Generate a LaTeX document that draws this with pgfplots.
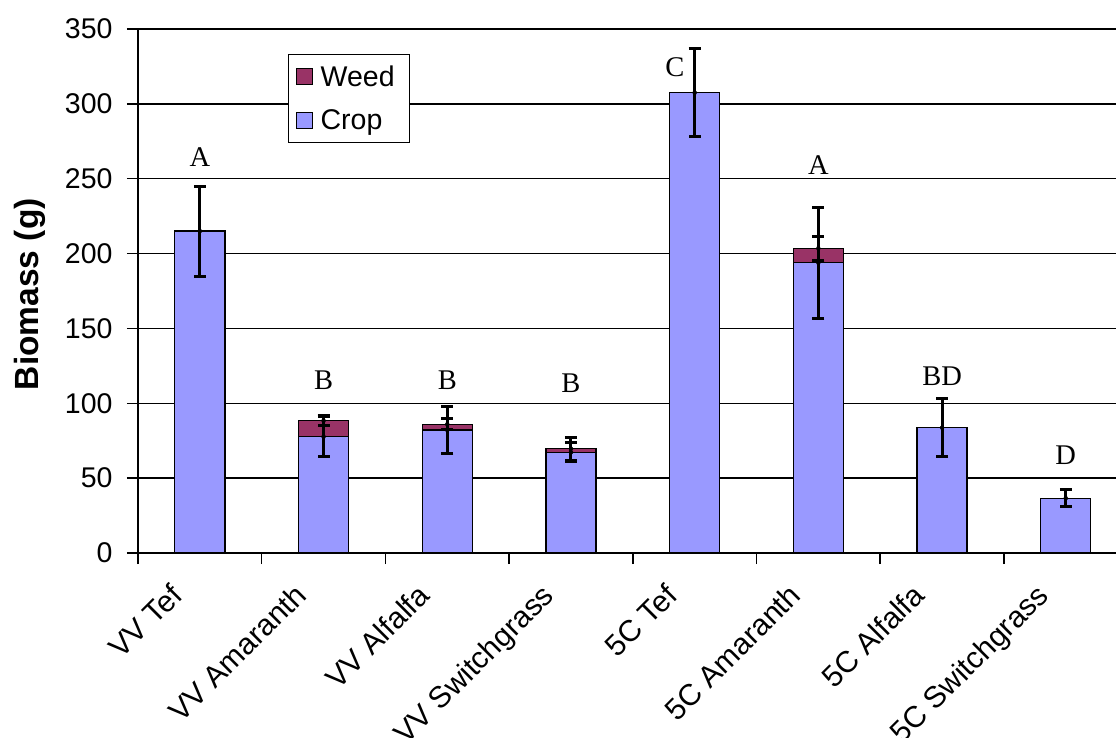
\documentclass[border=0pt]{standalone}
\usepackage{fontspec}
\setmainfont{Liberation Sans}
\newfontfamily\seriffont{Liberation Serif}
\usepackage{pgfplots}
\pgfplotsset{compat=1.18}
\definecolor{crop}{RGB}{153,153,255}
\definecolor{weed}{RGB}{153,51,102}
\begin{document}
\begin{tikzpicture}
\begin{axis}[
  at={(0bp,0bp)}, anchor=south west,
  scale only axis, width=978bp, height=524bp,
  xmin=-0.5, xmax=7.406, ymin=0, ymax=350,
  axis x line*=bottom, axis y line*=left,
  x axis line style={-, line width=1.5bp},
  y axis line style={-, line width=1.5bp},
  /pgf/number format/assume math mode=true,
  tick label style={font=\fontsize{28.5bp}{32bp}\selectfont},
  ytick={0,50,...,300},
  extra y ticks={350},
  extra y tick style={grid style={gray!60, line width=0.8bp}},
  ymajorgrids,
  major y grid style={black, line width=1.3bp},
  tick align=outside,
  major tick length=11bp,
  minor tick length=11bp,
  y tick style={black, line width=1.5bp},
  xtick={0,...,7},
  xticklabels={VV Tef, VV Amaranth, VV Alfalfa, VV Switchgrass, 5C Tef, 5C Amaranth, 5C Alfalfa, 5C Switchgrass},
  major x tick style={draw=none},
  minor xtick={-0.5,0.5,...,6.5},
  minor x tick style={black, line width=1.5bp},
  xticklabel style={font=\fontsize{30bp}{34bp}\selectfont, text height=0.75em, text depth=0.22em,
     xshift=-21bp, yshift=-25bp, rotate=45, anchor=north east, inner sep=2bp},
  yticklabel style={anchor=east, xshift=-11bp},
  every axis y label/.style={at={(axis description cs:-0.1104,0.494)}, rotate=90, anchor=center,
     font=\bfseries\fontsize{33.5bp}{36bp}\selectfont},
  ylabel={Biomass (g)},
  legend style={at={(rel axis cs:0.1534,0.952)}, anchor=north west, draw=black, line width=1.3bp,
     fill=white, font=\fontsize{28.5bp}{32bp}\selectfont, row sep=18bp, inner xsep=7bp, inner ysep=9bp,
     nodes={inner xsep=8bp},
     legend cell align=left},
  legend image code/.code={\draw[#1, line width=1bp] (0bp,-8bp) rectangle (16bp,8bp);},
]
% total (crop + weed), drawn first
\addplot[ybar, bar width=50bp, bar shift=0pt, fill=weed, draw=black, line width=1.3bp]
  coordinates {(0,215) (1,88.4) (2,86) (3,69.7) (4,307.5) (5,203.5) (6,83.7) (7,36.6)};
\addlegendentry{Weed}
% crop
\addplot[ybar, bar width=50bp, bar shift=0pt, fill=crop, draw=black, line width=1.3bp]
  coordinates {(0,215) (1,77.7) (2,82.2) (3,67.3) (4,307.5) (5,193.9) (6,83.7) (7,36.6)};
\addlegendentry{Crop}
% crop error bars
\addplot[forget plot, only marks, mark=none,
  error bars/.cd, y dir=both, y explicit,
  error bar style={line width=3bp, black},
  error mark options={rotate=90, mark size=6bp, line width=3bp, black}]
  coordinates {(0,215) +- (0,30) (1,77.7) +- (0,13.5) (2,82.2) +- (0,15.5) (3,67.3) +- (0,6.5)
               (4,307.5) +- (0,29.5) (5,193.9) +- (0,37) (6,83.7) +- (0,19.5) (7,36.6) +- (0,5.8)};
% weed (total) error bars
\addplot[forget plot, only marks, mark=none,
  error bars/.cd, y dir=both, y explicit,
  error bar style={line width=3bp, black},
  error mark options={rotate=90, mark size=6bp, line width=3bp, black}]
  coordinates {(1,88.4) +- (0,3.5) (2,86) +- (0,3.7) (3,69.7) +- (0,7.6) (5,203.5) +- (0,7.8)};
% significance letters
\begin{scope}[every node/.style={font=\seriffont\fontsize{28.5bp}{30bp}\selectfont}]
\node at (axis cs:0,264.5) {A};
\node at (axis cs:1,115.5) {B};
\node at (axis cs:2,115.5) {B};
\node at (axis cs:3,113.5) {B};
\node at (axis cs:3.84,324.6) {C};
\node at (axis cs:5,259) {A};
\node at (axis cs:6,117.8) {BD};
\node at (axis cs:7,65.5) {D};
\end{scope}
\end{axis}
\pgfresetboundingbox
\useasboundingbox (-138bp,-185bp) rectangle (978bp,553bp);
\end{tikzpicture}
\end{document}
